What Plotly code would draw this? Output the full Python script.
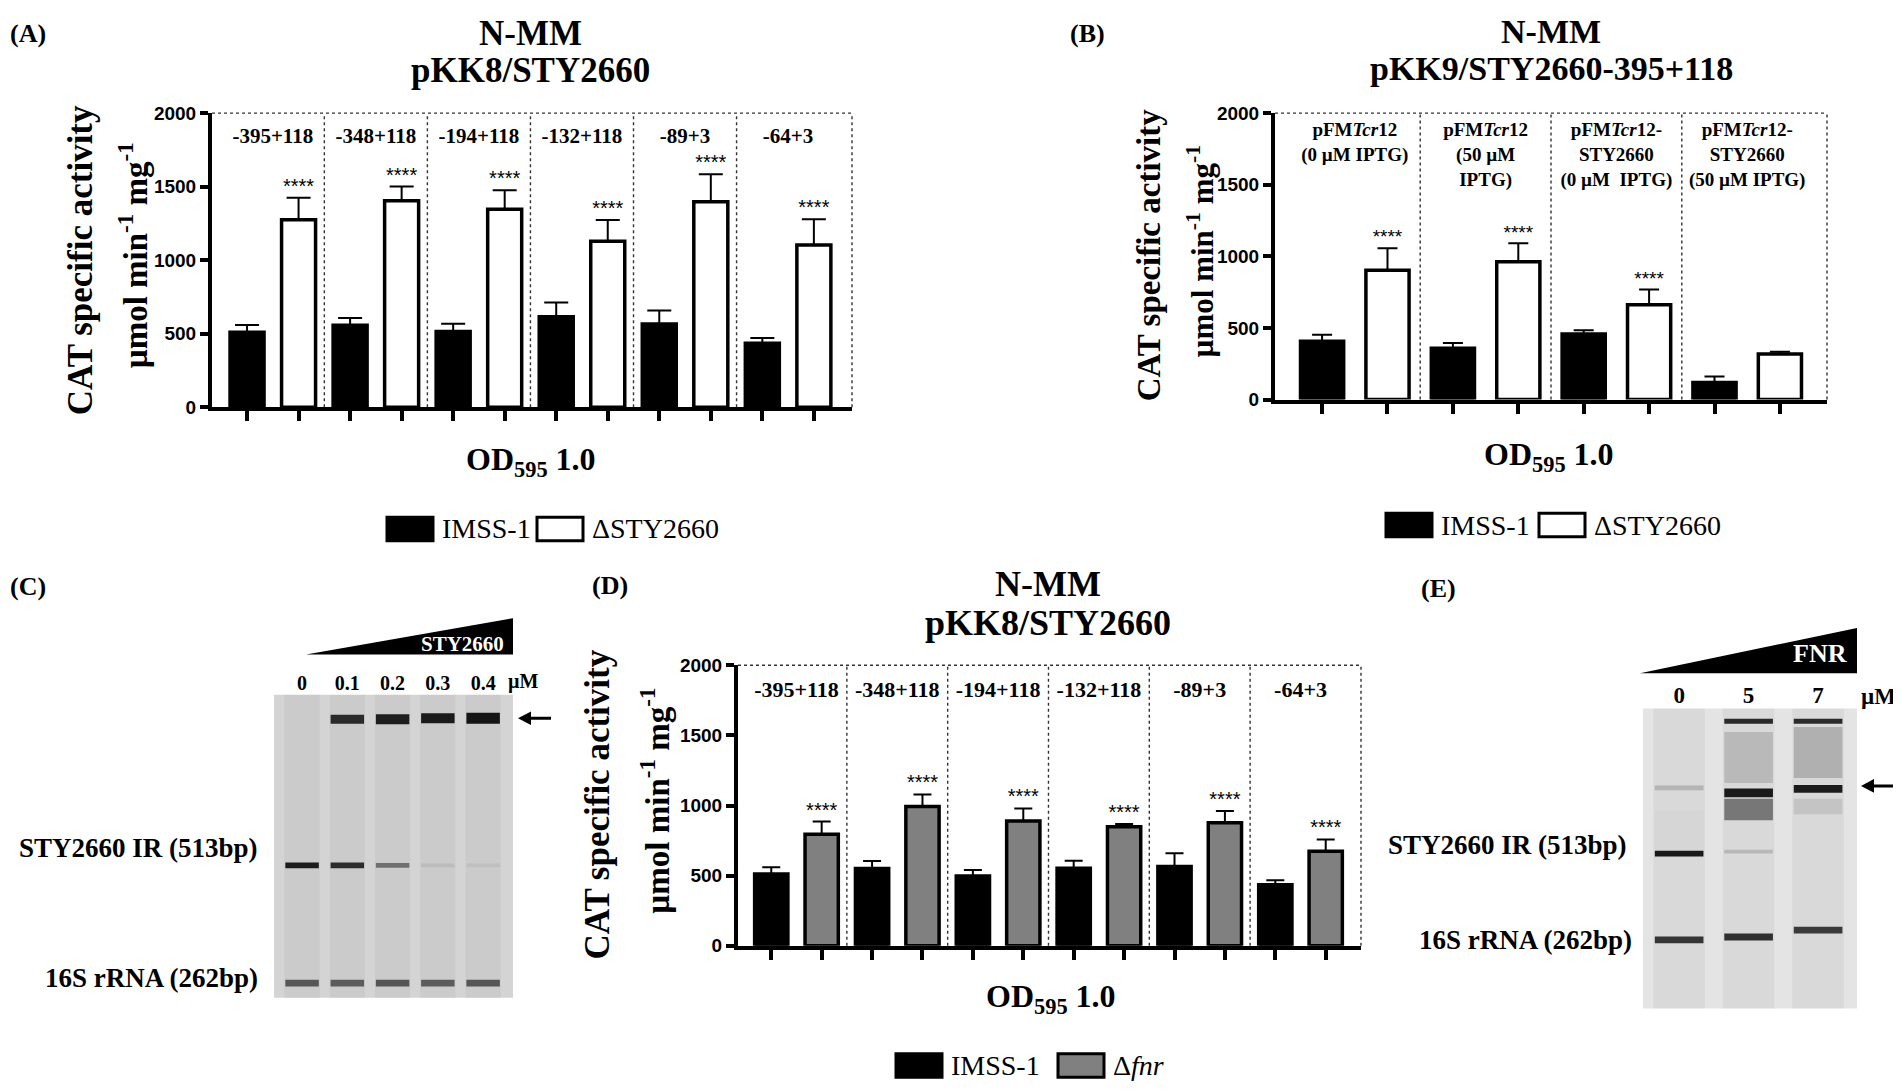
import plotly.graph_objects as go

W, H = 1901, 1091
SERIF = "Liberation Serif, Times New Roman, serif"
SANS = "Liberation Sans, Arial, sans-serif"

# (A) N-MM pKK8/STY2660, IMSS-1 vs dSTY2660
a_groups = ['-395+118', '-348+118', '-194+118', '-132+118', '-89+3', '-64+3']
a_wt = [511, 558, 515, 616, 567, 435]
a_wt_err = [49, 49, 54, 97, 92, 36]
a_mut = [1275, 1405, 1346, 1129, 1398, 1104]
a_mut_err = [149, 96, 129, 144, 186, 174]
a_stars = ['****'] * 6

# (B) N-MM pKK9/STY2660-395+118
b_groups = ['pFM<i>Tcr</i>12<br>(0 µM IPTG)',
            'pFM<i>Tcr</i>12<br>(50 µM<br>IPTG)',
            'pFM<i>Tcr</i>12-<br>STY2660<br>(0 µM  IPTG)',
            'pFM<i>Tcr</i>12-<br>STY2660<br>(50 µM IPTG)']
b_wt = [406, 358, 458, 119]
b_wt_err = [47, 36, 26, 41]
b_mut = [902, 962, 661, 317]
b_mut_err = [155, 129, 107, 17]
b_stars = ['****', '****', '****', '']

# (D) N-MM pKK8/STY2660, IMSS-1 vs dfnr
d_groups = a_groups
d_wt = [512, 552, 497, 553, 565, 436]
d_wt_err = [48, 53, 43, 54, 94, 31]
d_mut = [795, 993, 889, 848, 877, 674]
d_mut_err = [91, 86, 90, 20, 85, 84]
d_stars = ['****'] * 6

# (C) EMSA STY2660 - bands: lane, position from gel top, thickness, grey
c_lanes = [1, 2, 3, 4, 5]
c_lane_labels = ['0', '0.1', '0.2', '0.3', '0.4']
c_band_lane = [2, 3, 4, 5, 1, 2, 3, 4, 5, 1, 2, 3, 4, 5]
c_band_pos = [25, 25, 24, 24, 174, 174, 174, 174, 174, 294, 294, 294, 294, 294]
c_band_thick = [9, 10, 10, 11, 6, 6, 5, 4, 4, 7, 7, 7, 7, 7]
c_band_grey = ['#2a2a2a', '#1e1e1e', '#1a1a1a', '#151515', '#1c1c1c', '#2c2c2c', '#707070',
               '#bcbcbc', '#c0c0c0', '#575757', '#5c5c5c', '#555555', '#5c5c5c', '#565656']

# (E) EMSA FNR
e_lanes = [1, 2, 3]
e_lane_labels = ['0', '5', '7']
e_band_lane = [1, 2, 3, 2, 3, 1, 1, 2, 2, 2, 3, 3, 1, 2, 3]
e_band_pos = [125, 50, 45, 103, 100, 81, 148, 13, 86, 146, 13, 82, 236, 233, 226]
e_band_thick = [40, 52, 52, 22, 16, 5, 6, 5, 9, 4, 5, 8, 7, 7, 7]
e_band_grey = ['#d6d6d6', '#b9b9b9', '#b0b0b0', '#777777', '#c4c4c4', '#b4b4b4', '#1a1a1a',
               '#2a2a2a', '#1a1a1a', '#b8b8b8', '#2a2a2a', '#1c1c1c', '#353535', '#303030', '#3a3a3a']


def X(p):
    return p / W


def Y(p):
    return 1 - p / H


fig = go.Figure()
shapes = []
annotations = []


def ann(text, x, y, size, bold=True, family=SERIF, color='black', xanchor='center', angle=0):
    annotations.append(dict(
        text='<b>%s</b>' % text if bold else text, x=X(x), y=Y(y), xref='paper', yref='paper',
        showarrow=False, xanchor=xanchor, yanchor='middle', textangle=angle,
        font=dict(family=family, size=size, color=color)))


def bar_panel(n, groups, wt, wt_err, mut, mut_err, stars, mut_color, xdom, ydom, xrng,
              label_y, label_size, label_pos, cap, star_size):
    xa = 'x' if n == 1 else 'x%d' % n
    ya = 'y' if n == 1 else 'y%d' % n
    k = list(range(len(groups)))
    fig.add_trace(go.Bar(
        x=k, y=wt, xaxis=xa, yaxis=ya, marker=dict(color='black', line=dict(color='black', width=3.5)),
        error_y=dict(type='data', array=wt_err, arrayminus=[0] * len(k), symmetric=False,
                     color='black', thickness=2, width=cap),
        showlegend=False, hoverinfo='skip'))
    fig.add_trace(go.Bar(
        x=k, y=mut, xaxis=xa, yaxis=ya, marker=dict(color=mut_color, line=dict(color='black', width=3.5)),
        error_y=dict(type='data', array=mut_err, arrayminus=[0] * len(k), symmetric=False,
                     color='black', thickness=2, width=cap),
        showlegend=False, hoverinfo='skip'))
    sk = [i for i in k if stars[i]]
    fig.add_trace(go.Scatter(
        x=[i + 0.25 for i in sk], y=[mut[i] + mut_err[i] for i in sk], xaxis=xa, yaxis=ya,
        mode='text', text=[stars[i] for i in sk], textposition='top center', cliponaxis=False,
        textfont=dict(family=SANS, size=star_size, color='black'), showlegend=False, hoverinfo='skip'))
    fig.add_trace(go.Scatter(
        x=k, y=[label_y] * len(k), xaxis=xa, yaxis=ya, mode='text',
        text=['<b>%s</b>' % g for g in groups], textposition=label_pos, cliponaxis=False,
        textfont=dict(family=SERIF, size=label_size, color='black'), showlegend=False, hoverinfo='skip'))
    axis_x = dict(domain=[X(xdom[0]), X(xdom[1])], range=xrng, anchor=ya, showgrid=False, zeroline=False,
                  showline=True, linewidth=4, linecolor='black', ticks='outside', ticklen=10, tickwidth=3.5,
                  tickcolor='black', tickvals=[i + s for i in k for s in (-0.25, 0.25)],
                  showticklabels=False)
    axis_y = dict(domain=[Y(ydom[0]), Y(ydom[1])], range=[0, 2000], anchor=xa, showgrid=False,
                  zeroline=False, showline=True, linewidth=4, linecolor='black', ticks='outside',
                  ticklen=8, tickwidth=3.5, tickcolor='black', tickvals=[0, 500, 1000, 1500, 2000],
                  tickfont=dict(family=SANS, size=19, color='black', weight='bold'))
    fig.update_layout({'xaxis' if n == 1 else 'xaxis%d' % n: axis_x,
                       'yaxis' if n == 1 else 'yaxis%d' % n: axis_y})
    dot = dict(color='#333333', width=1.4, dash='dot')
    for i in k[:-1]:
        shapes.append(dict(type='line', xref=xa, yref=ya + ' domain', x0=i + 0.5, x1=i + 0.5,
                           y0=0, y1=1, line=dot))
    shapes.append(dict(type='line', xref=xa + ' domain', yref=ya + ' domain', x0=0, x1=1, y0=1, y1=1, line=dot))
    shapes.append(dict(type='line', xref=xa + ' domain', yref=ya + ' domain', x0=1, x1=1, y0=0, y1=1, line=dot))


bar_panel(1, a_groups, a_wt, a_wt_err, a_mut, a_mut_err, a_stars, 'white',
          (204, 844), (397, 97), [-0.59, 5.62], 1833, 21, 'middle center', 12, 20)
bar_panel(2, b_groups, b_wt, b_wt_err, b_mut, b_mut_err, b_stars, 'white',
          (1267, 1819), (389, 97), [-0.61, 3.61], 1939, 19, 'bottom center', 10, 19)
bar_panel(3, d_groups, d_wt, d_wt_err, d_mut, d_mut_err, d_stars, '#808080',
          (730, 1353), (946, 660), [-0.58, 5.6], 1811, 22, 'middle center', 9, 20)


def gel(n, lanes, lane_labels, band_lane, band_pos, band_thick, band_grey, xdom, ydom, xrng,
        depth, bg, lane_bg, lane_w, label_size):
    xa, ya = 'x%d' % n, 'y%d' % n
    fig.add_trace(go.Bar(x=lanes, y=[depth] * len(lanes), base=[0] * len(lanes), xaxis=xa, yaxis=ya,
                         width=lane_w, offset=-lane_w / 2, marker=dict(color=lane_bg, line=dict(width=0)),
                         showlegend=False, hoverinfo='skip'))
    fig.add_trace(go.Bar(x=band_lane, y=band_thick, base=[p - t / 2 for p, t in zip(band_pos, band_thick)],
                         xaxis=xa, yaxis=ya, width=lane_w - 0.04, offset=-(lane_w - 0.04) / 2,
                         marker=dict(color=band_grey, line=dict(width=0)), showlegend=False, hoverinfo='skip'))
    fig.update_layout({
        'xaxis%d' % n: dict(domain=[X(xdom[0]), X(xdom[1])], range=xrng, anchor=ya, side='top',
                            showgrid=False, zeroline=False, showline=False, ticks='',
                            tickvals=lanes, ticktext=['<b>%s</b>' % t for t in lane_labels],
                            tickfont=dict(family=SERIF, size=label_size, color='black')),
        'yaxis%d' % n: dict(domain=[Y(ydom[0]), Y(ydom[1])], range=[depth, 0], anchor=xa, visible=False),
    })
    shapes.append(dict(type='rect', xref=xa + ' domain', yref=ya + ' domain', x0=0, x1=1, y0=0, y1=1,
                       fillcolor=bg, line=dict(width=0), layer='below'))


gel(4, c_lanes, c_lane_labels, c_band_lane, c_band_pos, c_band_thick, c_band_grey,
    (266, 505), (999, 690), [0.38, 5.66], 309, '#d4d4d4', '#cbcbcb', 0.78, 20)
gel(5, e_lanes, e_lane_labels, e_band_lane, e_band_pos, e_band_thick, e_band_grey,
    (1635, 1849), (1010, 704), [0.48, 3.56], 306, '#e4e4e4', '#d9d9d9', 0.74, 23)

# panel letters
for t, x, y in [('(A)', 0, 16), ('(B)', 1060, 16), ('(C)', 0, 580), ('(D)', 582, 579), ('(E)', 1411, 582)]:
    ann(t, x, y, 26, xanchor='left')

# titles
ann('N-MM', 522, 16, 35)
ann('pKK8/STY2660', 522, 54, 35)
ann('N-MM', 1543, 14, 34)
ann('pKK9/STY2660-395+118', 1543, 51, 34)
ann('N-MM', 1040, 577, 36)
ann('pKK8/STY2660', 1040, 617, 36)

# y titles
ytitle1 = 'CAT specific activity'
ytitle2 = 'µmol min<sup>-1</sup> mg<sup>-1</sup>'
ann(ytitle1, 72, 247, 35, angle=-90)
ann(ytitle2, 125, 242, 33, angle=-90)
ann(ytitle1, 1141, 242, 33, angle=-90)
ann(ytitle2, 1192, 238, 31, angle=-90)
ann(ytitle1, 590, 802, 35, angle=-90)
ann(ytitle2, 647, 798, 33, angle=-90)

# x titles
xtitle = 'OD<sub>595</sub> 1.0'
ann(xtitle, 523, 452, 32)
ann(xtitle, 1541, 447, 32)
ann(xtitle, 1043, 1000, 32)

# legends
legend_items = [
    (379, 521, 'black', 'IMSS-1'), (529, 521, 'white', 'ΔSTY2660'),
    (1378, 517, 'black', 'IMSS-1'), (1531, 517, 'white', 'ΔSTY2660'),
    (888, 1068, 'black', 'IMSS-1'), (1050, 1068, '#808080', 'Δ<i>fnr</i>'),
]
for x0, yc, col, lab in legend_items:
    shapes.append(dict(type='rect', xref='paper', yref='paper', x0=X(x0), x1=X(x0 + 46),
                       y0=Y(yc + 12), y1=Y(yc - 12), fillcolor=col, line=dict(color='black', width=3)))
    ann(lab, x0 + 53, yc, 28, bold=False, xanchor='left')

# gel decorations
shapes.append(dict(type='path', xref='paper', yref='paper', fillcolor='black', line=dict(width=0),
                   path='M %f,%f L %f,%f L %f,%f Z' % (X(298), Y(649), X(505), Y(612), X(505), Y(649))))
shapes.append(dict(type='path', xref='paper', yref='paper', fillcolor='black', line=dict(width=0),
                   path='M %f,%f L %f,%f L %f,%f Z' % (X(1632), Y(668), X(1849), Y(622), X(1849), Y(668))))
ann('STY2660', 454, 638, 21, color='white')
ann('FNR', 1812, 648, 26, color='white')
ann('µM', 515, 677, 20)
ann('µM', 1870, 692, 23)
ann('STY2660 IR (513bp)', 252, 846, 27, xanchor='right')
ann('16S rRNA (262bp)', 252, 979, 27, xanchor='right')
ann('STY2660 IR (513bp)', 1621, 843, 27, xanchor='right')
ann('16S rRNA (262bp)', 1626, 940, 27, xanchor='right')

# arrows pointing at the shifted complex
for hx, hy, tail in [(510, 714, 543), (1853, 783, 1898)]:
    shapes.append(dict(type='line', xref='paper', yref='paper', x0=X(hx + 8), x1=X(tail), y0=Y(hy), y1=Y(hy),
                       line=dict(color='black', width=3)))
    shapes.append(dict(type='path', xref='paper', yref='paper', fillcolor='black', line=dict(width=0),
                       path='M %f,%f L %f,%f L %f,%f Z' % (X(hx), Y(hy), X(hx + 13), Y(hy - 7),
                                                           X(hx + 13), Y(hy + 7))))

fig.update_layout(
    width=W, height=H, margin=dict(l=0, r=0, t=0, b=0),
    paper_bgcolor='white', plot_bgcolor='white',
    barmode='group', bargap=0, bargroupgap=0.34,
    shapes=shapes, annotations=annotations, showlegend=False,
)

fig.write_html("out.html")
